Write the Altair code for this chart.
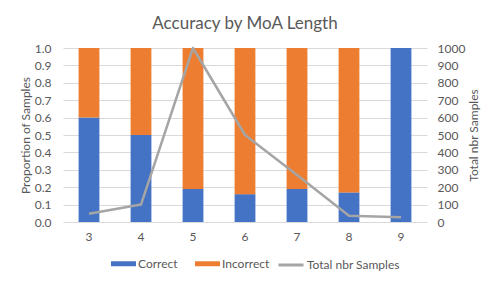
import altair as alt
import pandas as pd

lengths = ["3", "4", "5", "6", "7", "8", "9"]
correct = [0.60, 0.50, 0.19, 0.16, 0.19, 0.17, 1.00]
incorrect = [0.40, 0.50, 0.81, 0.84, 0.81, 0.83, 0.00]
totals = [47, 100, 1000, 500, 270, 36, 27]
bar_series = ["Correct", "Incorrect"]
bar_colors = ["#4472C4", "#ED7D31"]
line_series = ["Total nbr Samples"]
line_colors = ["#A5A5A5"]
left_ticks = [0.0, 0.1, 0.2, 0.3, 0.4, 0.5, 0.6, 0.7, 0.8, 0.9, 1.0]
right_ticks = [0, 100, 200, 300, 400, 500, 600, 700, 800, 900, 1000]

rows = []
for i, L in enumerate(lengths):
    rows.append({"length": L, "series": "Correct", "value": correct[i], "ord": 0})
    rows.append({"length": L, "series": "Incorrect", "value": incorrect[i], "ord": 1})
bar_df = pd.DataFrame(rows)
line_df = pd.DataFrame({"length": lengths, "total": totals, "name": line_series[0]})

FONT = "Lato"
GREY = "#595959"

legend_common = dict(
    title=None,
    orient="none",
    direction="horizontal",
    symbolSize=625,
    columnPadding=17,
    labelOffset=2,
    labelFont=FONT,
    labelFontSize=12,
    labelColor=GREY,
    labelLimit=200,
)

xenc = alt.X(
    "length:N",
    sort=lengths,
    scale=alt.Scale(paddingInner=0.6, paddingOuter=0.3),
    axis=alt.Axis(title=None, labelAngle=0, labelPadding=9, domain=False, ticks=False),
)

bars = alt.Chart(bar_df).mark_bar().encode(
    x=xenc,
    y=alt.Y(
        "value:Q",
        stack="zero",
        scale=alt.Scale(domain=[0, 1], nice=False),
        axis=alt.Axis(
            title="Proportion of Samples",
            values=left_ticks,
            format=".1f",
            labelPadding=12,
            titlePadding=2,
            grid=True,
        ),
    ),
    color=alt.Color(
        "series:N",
        scale=alt.Scale(domain=bar_series, range=bar_colors),
        legend=alt.Legend(
            legendX=48,
            legendY=203,
            symbolType="M-1,-0.2H1V0.2H-1Z",
            symbolStrokeWidth=0,
            **legend_common,
        ),
    ),
    order=alt.Order("ord:Q"),
)

line = alt.Chart(line_df).mark_line(strokeWidth=2.5, strokeJoin="round").encode(
    x=alt.X("length:N", sort=lengths),
    y=alt.Y(
        "total:Q",
        scale=alt.Scale(domain=[0, 1000], nice=False),
        axis=alt.Axis(
            title="Total nbr Samples",
            orient="right",
            values=right_ticks,
            format="d",
            grid=False,
            labelPadding=10,
            titlePadding=16,
            titleAngle=270,
        ),
    ),
    stroke=alt.Stroke(
        "name:N",
        scale=alt.Scale(domain=line_series, range=line_colors),
        legend=alt.Legend(
            legendX=214,
            legendY=203,
            symbolType="stroke",
            symbolStrokeWidth=3,
            **legend_common,
        ),
    ),
)

chart = alt.layer(bars, line).resolve_scale(y="independent").properties(
    width=364,
    height=174,
    title=alt.TitleParams(
        "Accuracy by MoA Length",
        font=FONT,
        fontSize=17,
        fontWeight="normal",
        color=GREY,
        anchor="middle",
        offset=9,
    ),
    autosize=alt.AutoSizeParams(type="none"),
    padding={"left": 55, "top": 40, "right": 63, "bottom": 54},
).configure_view(stroke=None).configure_axis(
    domain=False,
    ticks=False,
    gridColor="#D9D9D9",
    gridWidth=1,
    labelFont=FONT,
    labelFontSize=12,
    labelColor=GREY,
    titleFont=FONT,
    titleFontSize=12,
    titleFontWeight="normal",
    titleColor=GREY,
)

chart.save("out.html", embed_options={"renderer": "svg", "actions": False})
